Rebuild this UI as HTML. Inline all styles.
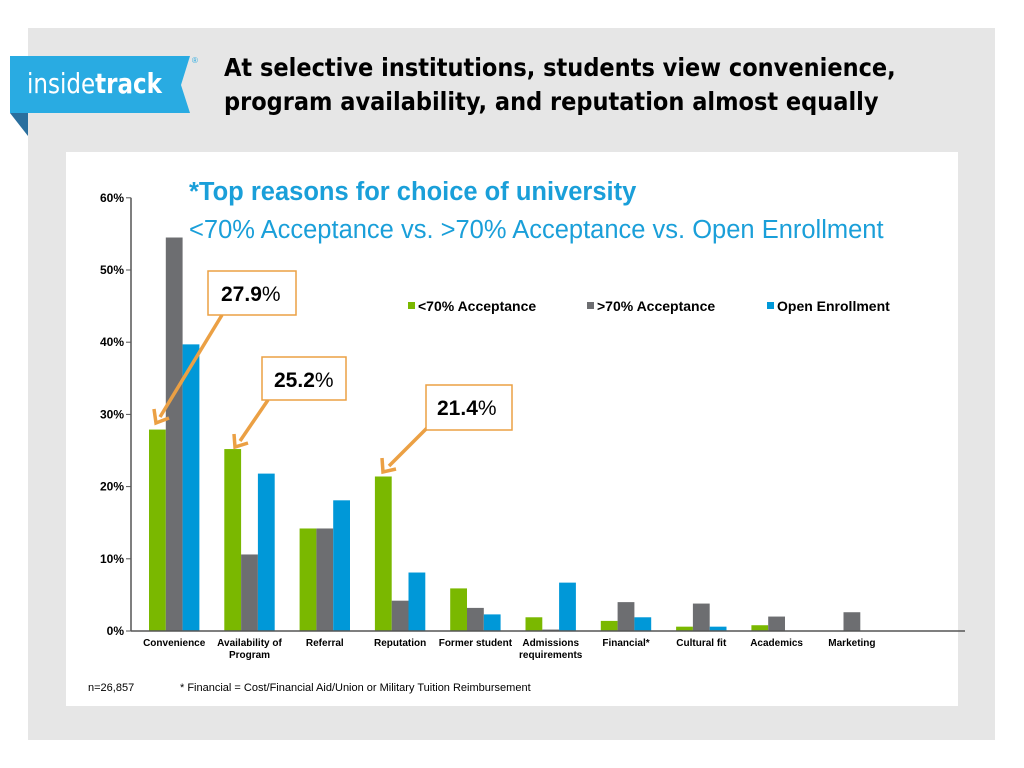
<!DOCTYPE html>
<html><head><meta charset="utf-8"><style>
body{margin:0;background:#fff;}
svg{display:block;font-family:"Liberation Sans",Arial,sans-serif;}
</style></head><body>
<svg width="1024" height="768" viewBox="0 0 1024 768">
<rect x="28" y="28" width="967" height="712" fill="#e6e6e6"/>
<g>
<polygon points="10,113 28,113 28,136" fill="#2a6f9e"/>
<polygon points="10,56 190,56 181,85 190,113 10,113" fill="#29abe2"/>
<text x="27" y="93" fill="#fff" font-size="28" font-family="DejaVu Sans Condensed, Liberation Sans, sans-serif" textLength="135" lengthAdjust="spacingAndGlyphs">inside<tspan font-weight="bold">track</tspan></text>
<text x="192" y="63" fill="#29abe2" font-size="8">®</text>
</g>
<text x="224" y="76" font-size="25" font-weight="bold" fill="#000" font-family="DejaVu Sans Condensed, Liberation Sans, sans-serif">At selective institutions, students view convenience,</text>
<text x="224" y="110" font-size="25" font-weight="bold" fill="#000" font-family="DejaVu Sans Condensed, Liberation Sans, sans-serif">program availability, and reputation almost equally</text>
<rect x="66" y="152" width="892" height="554" fill="#fff"/>
<text x="189" y="200" font-size="25.5" font-weight="bold" fill="#1a9fd9">*Top reasons for choice of university</text>
<text x="189" y="238" font-size="25.5" fill="#1a9fd9">&lt;70% Acceptance vs. &gt;70% Acceptance vs. Open Enrollment</text>
<g id="chart"></g>
<g font-size="14" font-weight="bold">
<rect x="408" y="302" width="7" height="7" fill="#7ab800"/><text x="418" y="311">&lt;70% Acceptance</text>
<rect x="587" y="302" width="7" height="7" fill="#6d6e71"/><text x="597" y="311">&gt;70% Acceptance</text>
<rect x="767" y="302" width="7" height="7" fill="#0098d8"/><text x="777" y="311">Open Enrollment</text>
</g>
<g stroke="#eba044" stroke-width="3.5" fill="none">
<line x1="222" y1="315" x2="160" y2="417"/><polyline points="154,409 156,423 169,418"/>
<line x1="268" y1="400" x2="240" y2="441"/><polyline points="234,434 235,447 248,443"/>
<line x1="428" y1="427" x2="389" y2="466"/><polyline points="382,458 383,472 396,469"/>
</g>
<g font-size="21" font-weight="bold">
<rect x="208" y="271" width="88" height="44" fill="#fff" stroke="#eba044" stroke-width="1.5"/><text x="221" y="301">27.9<tspan font-weight="normal">%</tspan></text>
<rect x="262" y="357" width="84" height="43" fill="#fff" stroke="#eba044" stroke-width="1.5"/><text x="274" y="387">25.2<tspan font-weight="normal">%</tspan></text>
<rect x="426" y="385" width="86" height="45" fill="#fff" stroke="#eba044" stroke-width="1.5"/><text x="437" y="415">21.4<tspan font-weight="normal">%</tspan></text>
</g>
<text x="88" y="691" font-size="11">n=26,857</text>
<text x="180" y="691" font-size="11">* Financial = Cost/Financial Aid/Union or Military Tuition Reimbursement</text>
</svg>
<script>
const categories=[["Convenience"],["Availability of","Program"],["Referral"],["Reputation"],["Former student"],["Admissions","requirements"],["Financial*"],["Cultural fit"],["Academics"],["Marketing"]];
const seriesLow=[27.9,25.2,14.2,21.4,5.9,1.9,1.4,0.6,0.8,0];
const seriesHigh=[54.5,10.6,14.2,4.2,3.2,0.2,4.0,3.8,2.0,2.6];
const seriesOpen=[39.7,21.8,18.1,8.1,2.3,6.7,1.9,0.6,0,0];
const yTicks=[0,10,20,30,40,50,60];
const ns="http://www.w3.org/2000/svg";
const g=document.getElementById('chart');


const y0=631,pxPer=7.22,x0=131,step=75.3,bw=16.8,gOff=18;
const yS=v=>y0-v*pxPer;
const xC=i=>x0+gOff+i*step;
function mk(t,a){const e=document.createElementNS(ns,t);for(const k in a)e.setAttribute(k,a[k]);g.appendChild(e);return e;}
const colors=["#7ab800","#6d6e71","#0098d8"];
const names=["low-acceptance","high-acceptance","open-enrollment"];
[seriesLow,seriesHigh,seriesOpen].forEach((s,si)=>{s.forEach((v,i)=>{if(v<=0)return;
const r=mk('rect',{x:xC(i)+si*bw,y:yS(v),width:bw,height:y0-yS(v),fill:colors[si]});

});});
const ax=mk('line',{x1:x0,y1:y0,x2:965,y2:y0,stroke:'#555','stroke-width':1.5});


const ay=mk('line',{x1:x0,y1:yS(60),x2:x0,y2:y0,stroke:'#555','stroke-width':1.5});


yTicks.forEach(t=>{const tk=mk('line',{x1:x0-5,y1:yS(t),x2:x0,y2:yS(t),stroke:'#555'});


const l=mk('text',{x:x0-7,y:yS(t)+4,'text-anchor':'end','font-size':12,'font-weight':'bold'});l.textContent=t+'%';

});
categories.forEach((c,i)=>{c.forEach((ln,j)=>{const l=mk('text',{x:xC(i)+bw*1.5,y:646+j*12,'text-anchor':'middle','font-size':10,'font-weight':'bold'});l.textContent=ln;

});});
</script>
</body></html>
